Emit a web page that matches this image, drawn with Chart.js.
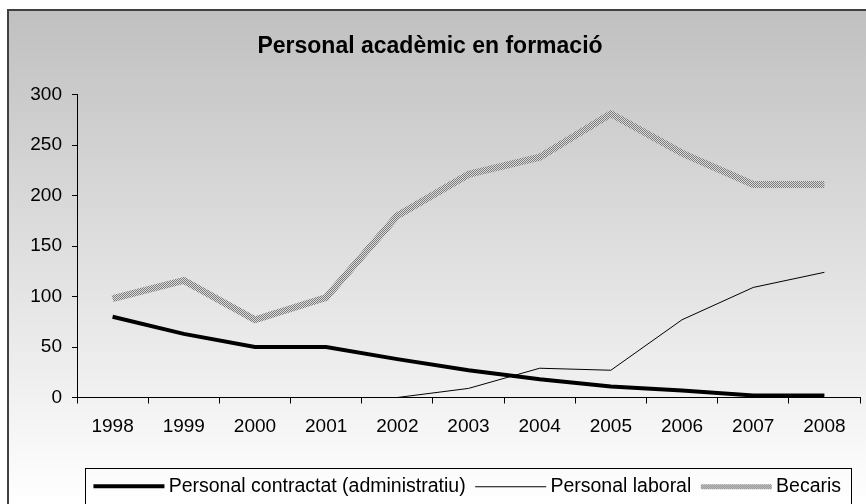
<!DOCTYPE html>
<html>
<head>
<meta charset="utf-8">
<script src="https://cdn.jsdelivr.net/npm/chart.js@4"></script>
<style>
  html, body { margin: 0; padding: 0; background: #fff; }
  #wrap { width: 866px; height: 504px; }
</style>
</head>
<body>
<div id="wrap"><canvas id="myChart" width="866" height="504"></canvas></div>
<script>
// data
const years = ['1998', '1999', '2000', '2001', '2002', '2003', '2004', '2005', '2006', '2007', '2008'];
const contractat = [80, 63, 50, 50, 38, 27, 18, 11, 7, 2, 2];
const laboral = [null, null, null, null, 0, 9, 29, 27, 77, 109, 124];
const becaris = [98, 116, 77, 99, 180, 221, 238, 281, 242, 211, 211];
const yTicks = [0, 50, 100, 150, 200, 250, 300];

const FONT = "'Liberation Sans', Arial, sans-serif";

// dithered grey used for the Becaris line
const patCanvas = document.createElement('canvas');
patCanvas.width = 2;
patCanvas.height = 2;
const pctx = patCanvas.getContext('2d');
pctx.fillStyle = '#dcdcdc';
pctx.fillRect(0, 0, 2, 2);
pctx.fillStyle = '#7a7a7a';
pctx.fillRect(0, 0, 1, 1);
pctx.fillRect(1, 1, 1, 1);
const ctx = document.getElementById('myChart').getContext('2d');
const becarisPattern = ctx.createPattern(patCanvas, 'repeat');

// little canvases used as legend samples (line of 71px, a bit off-centre)
function sample(stroke, width) {
  const cv = document.createElement('canvas');
  cv.width = 80;
  cv.height = 10;
  const c = cv.getContext('2d');
  c.fillStyle = stroke === 'pattern' ? c.createPattern(patCanvas, 'repeat') : stroke;
  c.fillRect(6, Math.round(5 - width / 2), 71, width);
  return cv;
}
const legendSamples = [sample('#000', 4), sample('#000', 1), sample('pattern', 5)];

// gradient background + outer frame, and box round the legend
const framePlugin = {
  id: 'frame',
  beforeDraw(chart) {
    const c = chart.ctx;
    const g = c.createLinearGradient(0, 10, 0, 504);
    g.addColorStop(0, '#c0c0c0');
    g.addColorStop(1, '#ffffff');
    c.save();
    c.fillStyle = g;
    c.fillRect(8, 10, 870, 500);
    c.strokeStyle = '#404040';
    c.lineWidth = 2;
    c.strokeRect(8, 10, 870, 500);
    c.restore();
  },
  afterDraw(chart) {
    const lg = chart.legend;
    if (!lg || !lg.legendHitBoxes.length) return;
    const boxes = lg.legendHitBoxes;
    const left = Math.min(...boxes.map(b => b.left)) - 11;
    const right = Math.max(...boxes.map(b => b.left + b.width)) + 10;
    const mid = boxes[0].top + boxes[0].height / 2;
    const c = chart.ctx;
    c.save();
    c.strokeStyle = '#000';
    c.lineWidth = 1;
    c.strokeRect(Math.round(left) + 0.5, Math.round(mid - 18) + 0.5, Math.round(right - left), 36);
    c.restore();
  }
};

new Chart(ctx, {
  type: 'line',
  data: {
    labels: years,
    datasets: [
      {
        label: 'Personal contractat (administratiu)',
        data: contractat,
        borderColor: '#000',
        backgroundColor: '#000',
        borderWidth: 4,
        pointRadius: 0,
        pointStyle: legendSamples[0],
        tension: 0
      },
      {
        label: 'Personal laboral',
        data: laboral,
        borderColor: '#000',
        backgroundColor: '#000',
        borderWidth: 1,
        pointRadius: 0,
        pointStyle: legendSamples[1],
        tension: 0
      },
      {
        label: 'Becaris',
        data: becaris,
        borderColor: becarisPattern,
        backgroundColor: becarisPattern,
        borderWidth: 7,
        pointRadius: 0,
        pointStyle: legendSamples[2],
        tension: 0
      }
    ]
  },
  options: {
    responsive: false,
    animation: false,
    layout: { padding: { left: 0, right: 6, top: 0, bottom: -2 } },
    plugins: {
      title: {
        display: true,
        text: 'Personal acadèmic en formació',
        color: '#000',
        font: { family: FONT, size: 23, weight: 'bold' },
        padding: { top: 33, bottom: 34 }
      },
      legend: {
        position: 'bottom',
        fullSize: false,
        labels: {
          usePointStyle: true,
          pointStyleWidth: 63,
          color: '#000',
          padding: 12,
          font: { family: FONT, size: 19.5 }
        }
      },
      tooltip: { enabled: false }
    },
    scales: {
      x: {
        offset: true,
        afterFit: scale => { scale.height = 67; },
        border: { color: '#000', width: 1 },
        grid: { offset: true, drawOnChartArea: false, drawTicks: true, tickLength: 6, color: '#000' },
        ticks: { color: '#000', padding: 12, font: { family: FONT, size: 19 }, maxRotation: 0 }
      },
      y: {
        min: 0,
        max: 300,
        afterFit: scale => { scale.width = 77; },
        afterBuildTicks: scale => { scale.ticks = yTicks.map(v => ({ value: v })); },
        border: { color: '#000', width: 1 },
        grid: { drawOnChartArea: false, drawTicks: true, tickLength: 5, color: '#000' },
        ticks: { color: '#000', padding: 10, font: { family: FONT, size: 19 } }
      }
    }
  },
  plugins: [framePlugin]
});
</script>
</body>
</html>
